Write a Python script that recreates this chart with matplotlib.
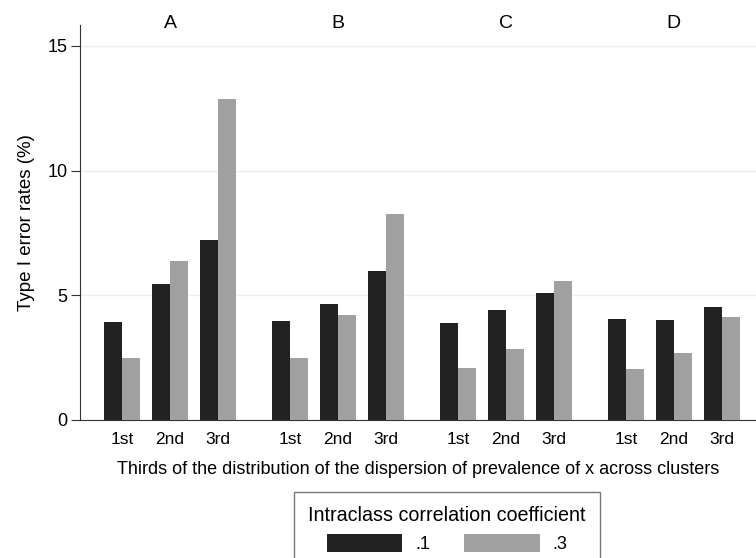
import numpy as np
import matplotlib.pyplot as plt
from matplotlib.patches import Patch

plt.rcParams['font.family'] = ['Liberation Sans', 'DejaVu Sans']

# data
groups = ['A', 'B', 'C', 'D']
thirds = ['1st', '2nd', '3rd']
icc_01 = [3.93, 5.46, 7.22,
          3.97, 4.67, 5.99,
          3.90, 4.43, 5.08,
          4.05, 4.00, 4.52]
icc_03 = [2.47, 6.39, 12.88,
          2.50, 4.21, 8.25,
          2.10, 2.85, 5.56,
          2.03, 2.69, 4.13]
series_labels = ['.1', '.3']
yticks = [0, 5, 10, 15]

dark = '#222222'
light = '#a0a0a0'

fig = plt.figure(figsize=(7.56, 5.58), dpi=100)
ax = fig.add_axes([80 / 756, 138 / 558, 676 / 756, 395 / 558])

# pair positions: 1 unit between pairs, 3.5 units between groups
pos = np.array([g * 3.5 + i for g in range(len(groups)) for i in range(len(thirds))])
w = 0.375

ax.bar(pos - w / 2, icc_01, width=w, color=dark, linewidth=0, zorder=3)
ax.bar(pos + w / 2, icc_03, width=w, color=light, linewidth=0, zorder=3)

ax.set_xlim(-0.875, 13.21)
ax.set_ylim(0, 15.84)

ax.set_yticks(yticks)
ax.set_yticklabels([str(t) for t in yticks], fontsize=13)
ax.tick_params(axis='y', length=6.5, width=0.8, pad=2.5, color='#333333')
ax.set_xticks(pos)
ax.set_xticklabels(thirds * len(groups), fontsize=12.5)
ax.tick_params(axis='x', length=0, pad=9)

ax.grid(axis='y', color='#e6eff1', linewidth=1, zorder=0)
for s in ['top', 'right']:
    ax.spines[s].set_visible(False)
ax.spines['left'].set_color('#333333')
ax.spines['bottom'].set_color('#333333')

# group labels over each block of bars
for g, name in enumerate(groups):
    ax.text(g * 3.5 + 1, 15.92, name, ha='center', va='center', fontsize=14, clip_on=False)

ax.set_ylabel('Type I error rates (%)', fontsize=13.5, labelpad=9)
ax.set_xlabel('Thirds of the distribution of the dispersion of prevalence of x across clusters',
              fontsize=13, labelpad=10)

handles = [Patch(facecolor=dark, edgecolor='none'), Patch(facecolor=light, edgecolor='none')]
leg = fig.legend(handles, series_labels, title='Intraclass correlation coefficient',
                 loc='upper center', bbox_to_anchor=(447 / 756, 66 / 558), ncol=2,
                 fontsize=13, title_fontsize=14.2, frameon=True, fancybox=False,
                 handlelength=4.2, handleheight=1.1, handletextpad=0.7,
                 columnspacing=1.9, borderpad=0.8, borderaxespad=0)
leg.get_frame().set_edgecolor('#555555')
leg.get_frame().set_linewidth(1)

fig.savefig('out.png', dpi=100)
